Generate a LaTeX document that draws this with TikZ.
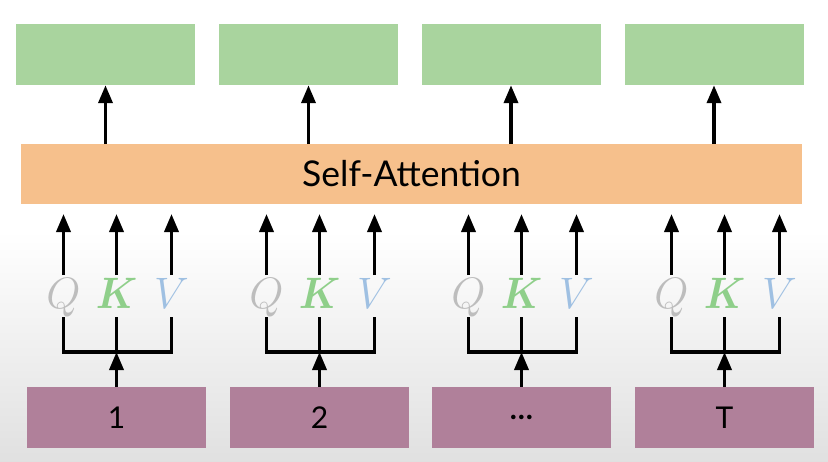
\documentclass[tikz,border=0pt]{standalone}
\usepackage{bm}
\usepackage{fontspec}
\setmainfont{Lato}
\usetikzlibrary{arrows.meta}
\definecolor{outgreen}{HTML}{A9D49E}
\definecolor{attnorange}{HTML}{F6C08C}
\definecolor{inpurple}{HTML}{B0809A}
\definecolor{qgray}{HTML}{BDBDBD}
\definecolor{kgreen}{HTML}{8FCF8A}
\definecolor{vblue}{HTML}{9FC0E2}
\newcommand{\bigletter}[1]{\scalebox{1.77}{$#1$}}
\newcommand{\bigbold}[1]{\scalebox{1.6}[1.77]{$\bm{#1}$}}
\tikzset{
  outbox/.style={fill=outgreen, minimum width=179pt, minimum height=61pt, inner sep=0pt},
  inbox/.style={fill=inpurple, minimum width=179pt, minimum height=61pt, inner sep=0pt,
    font=\fontsize{30}{30}\selectfont},
  attnbar/.style={fill=attnorange, minimum width=781pt, minimum height=60pt, inner sep=0pt,
    font=\fontsize{35.5}{36}\selectfont},
  qkv/.style={inner sep=0pt, anchor=base, font=\fontsize{24.88}{26}\selectfont},
  flow/.style={line width=3.6pt, -{Triangle[width=14pt,length=18pt]}},
  link/.style={line width=3.6pt},
}
\begin{document}
\begin{tikzpicture}[x=1pt,y=-1pt]
  % background: white top fading to light grey at the bottom
  \fill[white] (0,0) rectangle (828,232);
  \shade[top color=white, bottom color=black!12] (0,231) rectangle (828,461);
  \useasboundingbox (0,0) rectangle (828,461);

  % self-attention layer
  \node[attnbar] (att) at (411.5,174) {Self-Attention};

  \foreach \i/\xo/\xin/\lbl in {1/105.5/116.5/1, 2/308.5/319.5/2, 3/511/521.5/\textbf{\dots}, 4/714/724.5/T}{
    % outputs
    \node[outbox] (out\i) at (\xo,54.5) {};
    \coordinate (atop\i) at (\xo,144);
    \draw[flow] (atop\i) -- (out\i.south);
    % inputs
    \node[inbox] (in\i) at (\xin,417.5) {\lbl};
    % query, key, value
    \node[qkv, text=qgray]  (q\i) at (\xin-53,308) {\bigletter{Q}};
    \node[qkv, text=kgreen] (k\i) at (\xin,308)    {\bigbold{K}};
    \node[qkv, text=vblue]  (v\i) at (\xin+55,308) {\bigletter{V}};
    \coordinate (qa\i) at (\xin-53,214);
    \coordinate (ka\i) at (\xin,214);
    \coordinate (va\i) at (\xin+55,214);
    \coordinate (qt\i) at (\xin-53,275);
    \coordinate (kt\i) at (\xin,275);
    \coordinate (vt\i) at (\xin+55,275);
    \draw[flow] (qt\i) -- (qa\i);
    \draw[flow] (kt\i) -- (ka\i);
    \draw[flow] (vt\i) -- (va\i);
    % fork from the input into Q, K and V
    \coordinate (qb\i) at (\xin-53,317);
    \coordinate (kb\i) at (\xin,317);
    \coordinate (vb\i) at (\xin+55,317);
    \coordinate (fork\i) at (\xin,352);
    \draw[link, line join=miter] (qb\i) -- (\xin-53,352) -- (\xin+55,352) -- (vb\i);
    \draw[link] (kb\i) -- (fork\i);
    \draw[flow] (in\i.north) -- (fork\i);
  }
\end{tikzpicture}
\end{document}
